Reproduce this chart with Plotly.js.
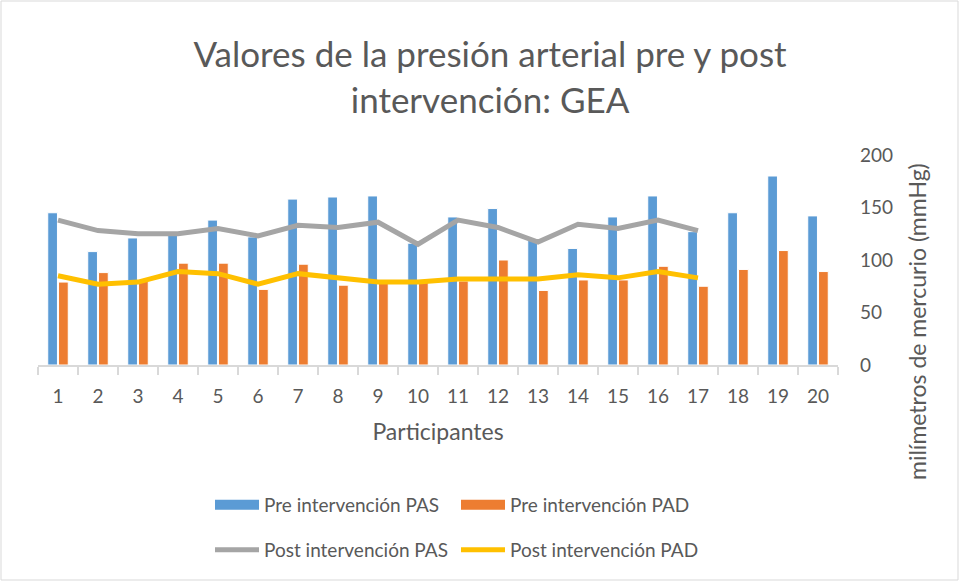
<!DOCTYPE html>
<html>
<head>
<meta charset="utf-8">
<script src="https://cdn.plot.ly/plotly-3.0.1.min.js"></script>
<style>html,body{margin:0;padding:0;background:#fff;}#chart{width:959px;height:581px;}</style>
</head>
<body>
<div id="chart"></div>
<script>
const participantes = ['1','2','3','4','5','6','7','8','9','10','11','12','13','14','15','16','17','18','19','20'];
const prePAS = [145,108,121,125,138,122,158,160,161,116,141,149,119,111,141,161,127,145,180,142];
const prePAD = [79,88,80,97,97,72,96,76,80,80,80,100,71,81,81,94,75,91,109,89];
const postParticipantes = ['1','2','3','4','5','6','7','8','9','10','11','12','13','14','15','16','17'];
const postPAS = [138,128,125,125,130,123,133,131,136,115,138,131,117,134,130,138,128];
const postPAD = [85,77,79,89,87,77,87,83,79,79,82,82,82,86,83,89,83];
const seriesNames = ['Pre intervención PAS','Pre intervención PAD','Post intervención PAS','Post intervención PAD'];

const txt = '#595959';
const FONT = 'Lato, "Open Sans", sans-serif';
const colors = ['#5B9BD5','#ED7D31','#A5A5A5','#FFC000'];

const traces = [
  {type:'bar', x:participantes, y:prePAS, name:seriesNames[0], showlegend:false,
   marker:{color:colors[0], line:{color:'#ffffff', width:1}}},
  {type:'bar', x:participantes, y:prePAD, name:seriesNames[1], showlegend:false,
   marker:{color:colors[1], line:{color:'#ffffff', width:1}}},
  {type:'scatter', mode:'lines', x:postParticipantes, y:postPAS, name:seriesNames[2],
   line:{color:colors[2], width:5}, legend:'legend2'},
  {type:'scatter', mode:'lines', x:postParticipantes, y:postPAD, name:seriesNames[3],
   line:{color:colors[3], width:5}, legend:'legend2'},
  // legend-only entries giving the bar series a wide rectangular key
  {type:'scatter', mode:'lines', x:[null], y:[null], name:seriesNames[0],
   line:{color:colors[0], width:14}, legend:'legend', hoverinfo:'skip'},
  {type:'scatter', mode:'lines', x:[null], y:[null], name:seriesNames[1],
   line:{color:colors[1], width:14}, legend:'legend', hoverinfo:'skip'}
];

const legendCommon = {orientation:'h', xanchor:'left', yanchor:'middle', itemwidth:44,
  entrywidth:187, entrywidthmode:'pixels', font:{size:19, color:txt},
  bgcolor:'rgba(0,0,0,0)', traceorder:'normal'};

const layout = {
  width:959, height:581,
  margin:{l:38, r:121, t:155, b:216},
  paper_bgcolor:'#ffffff', plot_bgcolor:'#ffffff',
  font:{family:FONT, color:txt, size:19},
  title:{text:'Valores de la presión arterial pre y post<br>intervención: GEA',
         font:{size:35, color:txt, family:FONT}, x:0.511, xanchor:'center',
         yref:'container', y:1-67/581, yanchor:'top'},
  barmode:'group', bargap:0.46, bargroupgap:0.1,
  xaxis:{type:'category', showline:true, linecolor:'#D9D9D9', linewidth:1.5,
         ticks:'outside', tickson:'boundaries', ticklen:8, tickcolor:'#D9D9D9', tickwidth:1.5,
         showgrid:false, zeroline:false, tickfont:{size:19, color:txt}, ticklabelstandoff:14,
         title:{text:'Participantes', font:{size:23, color:txt}, standoff:17}},
  yaxis:{side:'right', range:[0,200], tickvals:[0,50,100,150,200], showgrid:false,
         zeroline:false, showline:false, ticks:'', tickfont:{size:19, color:txt},
         ticklabelstandoff:21},
  legend:Object.assign({}, legendCommon, {x:(210-38)/800, y:(365-505)/210}),
  legend2:Object.assign({}, legendCommon, {x:(210-38)/800, y:(365-550)/210}),
  annotations:[{text:'milímetros de mercurio (mmHg)', textangle:-90, xref:'paper', yref:'paper',
    x:(917-38)/800, y:(365-321)/210, xanchor:'center', yanchor:'middle', showarrow:false,
    font:{size:23, color:txt}}],
  shapes:[{type:'rect', xref:'paper', yref:'paper', x0:(1-38)/800, x1:(958-38)/800,
    y0:(365-580)/210, y1:(365-1)/210, line:{color:'#D9D9D9', width:1}, fillcolor:'rgba(0,0,0,0)', layer:'below'}]
};

Plotly.newPlot('chart', traces, layout, {displayModeBar:false, staticPlot:true});
</script>
</body>
</html>
